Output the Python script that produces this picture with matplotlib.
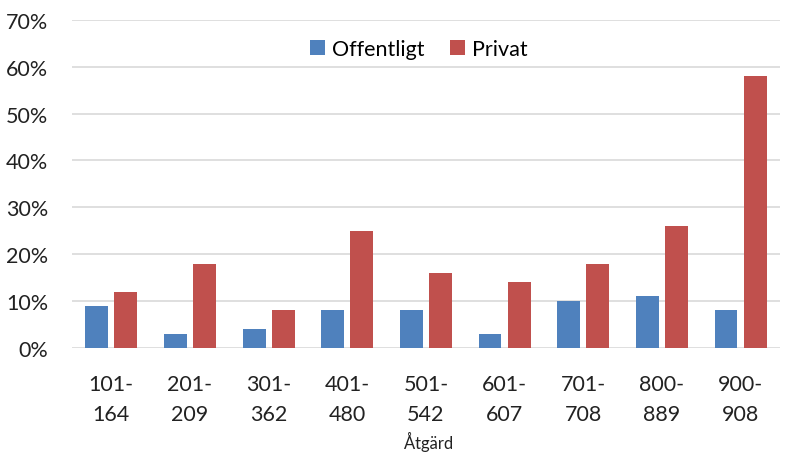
import matplotlib.pyplot as plt
import numpy as np

categories = ["101-\n164", "201-\n209", "301-\n362", "401-\n480", "501-\n542",
              "601-\n607", "701-\n708", "800-\n889", "900-\n908"]
offentligt = [9, 3, 4, 8, 8, 3, 10, 11, 8]
privat = [12, 18, 8, 25, 16, 14, 18, 26, 58]

plt.rcParams['font.family'] = ['Lato', 'DejaVu Sans']

fig = plt.figure(figsize=(7.87, 4.56), dpi=100)
ax = fig.add_axes([0.0915, 0.235, 0.8995, 0.719])

x = np.arange(len(categories))
w = 0.29
ax.bar(x - w / 2 - 0.04, offentligt, w, color="#4F81BD", label="Offentligt", zorder=3)
ax.bar(x + w / 2 + 0.04, privat, w, color="#C0504D", label="Privat", zorder=3)

ax.set_xlim(-0.5, len(categories) - 0.5)
ax.set_ylim(0, 70)
ax.set_yticks(range(0, 71, 10))
ax.set_yticklabels([f"{v}%" for v in range(0, 71, 10)], fontsize=15.5, color="#222222")
ax.set_xticks(x)
ax.set_xticklabels(categories, fontsize=15.5, color="#222222", linespacing=1.6)
ax.tick_params(length=0, axis='y', pad=17)
ax.tick_params(length=0, axis='x', pad=19)
ax.grid(axis='y', color="#D9D9D9", linewidth=1.2, zorder=0)
for s in ax.spines.values():
    s.set_visible(False)
fig.text(0.544, 0.008, "Åtgärd", fontsize=12, color="#222222", ha="center", va="bottom")

ax.legend(loc="upper center", bbox_to_anchor=(0.49, 1.0), ncol=2, frameon=False,
          fontsize=15.5, handlelength=0.7, handleheight=0.7, handletextpad=0.3,
          columnspacing=1.2)

fig.savefig("out.png", dpi=100)
